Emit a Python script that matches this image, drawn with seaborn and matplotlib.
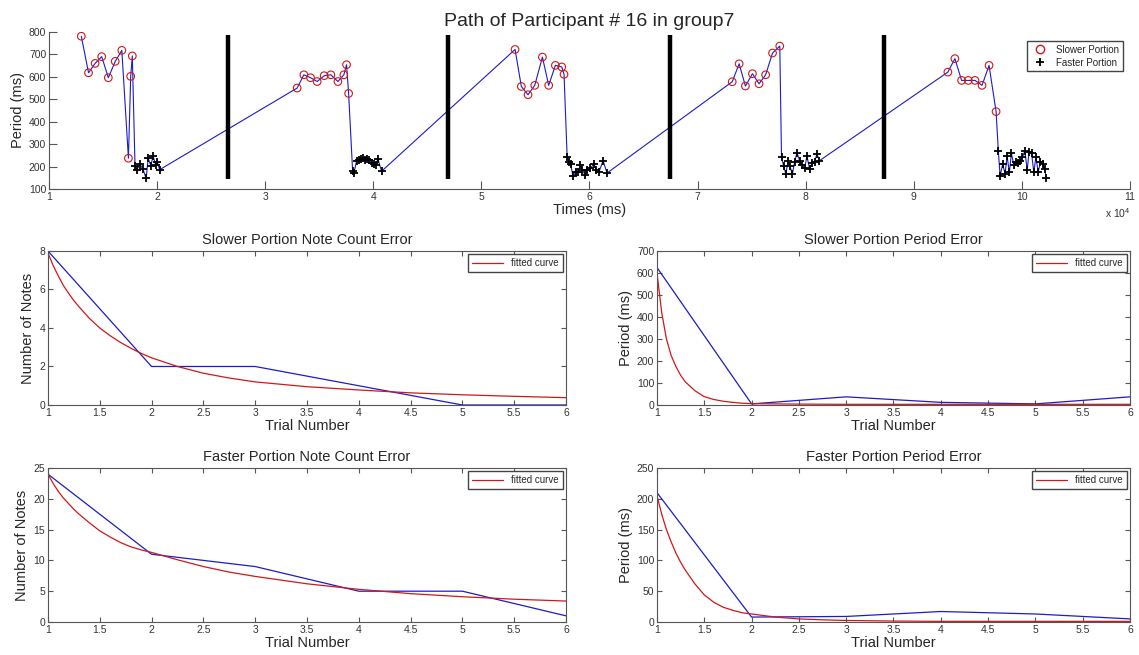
import numpy as np
import pandas as pd
import matplotlib
matplotlib.use("Agg")
import matplotlib.pyplot as plt
import seaborn as sns
from matplotlib.lines import Line2D
from matplotlib.ticker import FuncFormatter, FixedLocator

# ---------------- data ----------------
slow1_t = [12990, 13660, 14270, 14880, 15490, 16130, 16740, 17350, 17560, 17710]
slow1_p = [781, 618, 660, 690, 596, 669, 718, 237, 602, 693]
fast1_t = [17960, 18140, 18410, 18690, 18990, 19180, 19420, 19630, 19880, 20030, 20240]
fast1_p = [201, 186, 211, 189, 147, 237, 204, 246, 207, 219, 186]

slow2_t = [32960, 33580, 34200, 34810, 35460, 36080, 36730, 37280, 37530, 37720]
slow2_p = [550, 609, 596, 579, 605, 609, 579, 609, 654, 526]
fast2_t = [38090, 38210, 38460, 38700, 38830, 39010, 39260, 39440, 39630, 39880, 40060, 40250, 40430, 40770]
fast2_p = [182, 171, 226, 231, 234, 237, 231, 234, 228, 216, 211, 207, 234, 179]

slow3_t = [53120, 53700, 54320, 54940, 55650, 56230, 56850, 57440, 57650]
slow3_p = [722, 557, 520, 562, 688, 562, 651, 644, 611]
fast3_t = [57940, 58120, 58250, 58490, 58740, 58950, 59170, 59350, 59600, 59780, 60090, 60400, 60650, 60890, 61260, 61630]
fast3_p = [241, 219, 211, 156, 174, 177, 207, 186, 162, 186, 192, 211, 186, 177, 226, 171]

slow4_t = [73210, 73850, 74430, 75080, 75690, 76300, 76940, 77610]
slow4_p = [578, 658, 559, 614, 569, 609, 706, 737]
fast4_t = [77770, 77980, 78170, 78380, 78530, 78780, 78990, 79200, 79450, 79690, 79910, 80120, 80370, 80610, 80830, 81040, 81280]
fast4_p = [241, 201, 167, 226, 204, 167, 222, 261, 226, 207, 192, 246, 189, 216, 219, 256, 226]

slow5_t = [93160, 93810, 94430, 95050, 95670, 96320, 96970, 97620]
slow5_p = [621, 681, 584, 584, 584, 562, 651, 445]
fast5_t = [97830, 97990, 98240, 98450, 98640, 98850, 99040, 99260, 99440, 99660, 99850, 100060,
           100280, 100500, 100680, 100900, 101110, 101300, 101520, 101730, 101920, 102110, 102260]
fast5_p = [270, 159, 211, 167, 246, 174, 259, 207, 219, 216, 226, 241,
           270, 186, 267, 261, 174, 241, 177, 219, 211, 189, 150]

trial_breaks = [26520, 46940, 67420, 87250]
break_low, break_high = 145, 785

trials = [1, 2, 3, 4, 5, 6]
slow_count_err = [8, 2, 2, 1, 0, 0]
slow_period_err = [625, 5, 37, 12, 5, 37]
fast_count_err = [24, 11, 9, 5, 5, 1]
fast_period_err = [210, 8, 9, 17, 13, 5]

fit_x = [1, 1.05, 1.1, 1.15, 1.2, 1.25, 1.3, 1.4, 1.5, 1.6, 1.7, 1.8, 1.9, 2,
         2.25, 2.5, 2.75, 3, 3.5, 4, 4.5, 5, 5.5, 6]
slow_count_fit = [7.9, 7.25, 6.7, 6.2, 5.8, 5.42, 5.1, 4.5, 4.0, 3.6, 3.25, 2.95, 2.68, 2.45,
                  2.0, 1.65, 1.4, 1.2, 0.95, 0.78, 0.63, 0.53, 0.45, 0.38]
slow_period_fit = [600, 420, 300, 225, 175, 135, 105, 65, 38, 25, 17, 12, 8, 6,
                   5, 4, 3.5, 3, 3, 3, 3, 3, 3, 3]
fast_count_fit = [24, 22.5, 21.2, 20.1, 19.2, 18.3, 17.5, 16.1, 14.8, 13.8, 12.9, 12.2, 11.7, 11.3,
                  10.1, 9.0, 8.1, 7.4, 6.2, 5.3, 4.6, 4.1, 3.7, 3.4]
fast_period_fit = [205, 175, 150, 130, 112, 97, 84, 62, 44, 32, 24, 19, 15, 13,
                   8, 5, 3.5, 2.5, 1.5, 1, 1, 1, 1, 1]

# ---------------- style ----------------
sns.set_style("ticks")
plt.rcParams['font.family'] = ['Liberation Sans', 'DejaVu Sans']
plt.rcParams['mathtext.fontset'] = 'custom'
plt.rcParams['mathtext.rm'] = 'Liberation Sans'
plt.rcParams['xtick.direction'] = 'in'
plt.rcParams['ytick.direction'] = 'in'

BLUE = '#1c1cc8'
RED = '#d01818'
SPINE = '#555555'
TICKC = '#333333'

fig = plt.figure(figsize=(11.39, 6.55), dpi=100)
fig.patch.set_facecolor('white')

# ---------------- top path plot ----------------
ax0 = fig.add_axes([0.043, 0.7115, 0.949, 0.2397])
slows = [(slow1_t, slow1_p), (slow2_t, slow2_p), (slow3_t, slow3_p), (slow4_t, slow4_p), (slow5_t, slow5_p)]
fasts = [(fast1_t, fast1_p), (fast2_t, fast2_p), (fast3_t, fast3_p), (fast4_t, fast4_p), (fast5_t, fast5_p)]
path_t, path_p = [], []
for (st, sp), (ft, fp) in zip(slows, fasts):
    path_t += st + ft
    path_p += sp + fp
path_df = pd.DataFrame({'t': path_t, 'p': path_p})
sns.lineplot(data=path_df, x='t', y='p', sort=False, estimator=None, color=BLUE, lw=0.8, ax=ax0)

slow_df = pd.DataFrame({'t': sum([s[0] for s in slows], []), 'p': sum([s[1] for s in slows], [])})
fast_df = pd.DataFrame({'t': sum([f[0] for f in fasts], []), 'p': sum([f[1] for f in fasts], [])})
sns.scatterplot(data=slow_df, x='t', y='p', marker='o', s=30, facecolors='none',
                edgecolor=RED, linewidth=0.8, ax=ax0, zorder=3)
sns.scatterplot(data=fast_df, x='t', y='p', marker='+', s=32, color='black',
                linewidth=1.3, ax=ax0, zorder=3)
ax0.vlines(trial_breaks, break_low, break_high, colors='black', lw=3.2, zorder=4)

ax0.set_xlim(10000, 110000)
ax0.set_ylim(100, 800)
ax0.xaxis.set_major_locator(FixedLocator(np.arange(10000, 110001, 10000)))
ax0.xaxis.set_major_formatter(FuncFormatter(lambda v, pos: f"{v/1e4:g}"))
ax0.set_yticks(np.arange(100, 801, 100))
ax0.set_title("Path of Participant # 16 in group7", fontsize=14, pad=4)
ax0.set_xlabel("Times (ms)", fontsize=10.5, labelpad=1)
ax0.set_ylabel("Period (ms)", fontsize=10.5, labelpad=3)
ax0.text(0.989, -0.155, "x 10$^{4}$", transform=ax0.transAxes, fontsize=7.5,
         ha='center', va='center', color=TICKC)
for side in ['top', 'right']:
    ax0.spines[side].set_visible(False)
for side in ['left', 'bottom']:
    ax0.spines[side].set_color(SPINE)
    ax0.spines[side].set_linewidth(0.8)
ax0.tick_params(axis='both', labelsize=7.5, labelcolor=TICKC, color=SPINE,
                length=6, width=0.8, pad=2)
leg_handles = [
    Line2D([], [], marker='o', ls='none', markerfacecolor='none', markeredgecolor=RED, markersize=6),
    Line2D([], [], marker='+', ls='none', color='black', markersize=6, markeredgewidth=1.3),
]
ax0.legend(leg_handles, ['Slower Portion', 'Faster Portion'], loc='upper right',
           bbox_to_anchor=(0.998, 0.975), fontsize=7, frameon=True, fancybox=False,
           edgecolor='#444444', framealpha=1, handletextpad=0.6, borderpad=0.4,
           labelspacing=0.3)

# ---------------- small plots ----------------
def small_plot(rect, yvals, fitvals, title, ylabel, yticks):
    ax = fig.add_axes(rect)
    sns.lineplot(x=trials, y=yvals, color=BLUE, lw=0.9, ax=ax)
    sns.lineplot(x=fit_x, y=fitvals, color=RED, lw=0.9, ax=ax, label='fitted curve')
    ax.set_xlim(1, 6)
    ax.set_ylim(yticks[0], yticks[-1])
    ax.set_xticks(np.arange(1, 6.01, 0.5))
    ax.xaxis.set_major_formatter(FuncFormatter(lambda v, pos: f"{v:g}"))
    ax.set_yticks(yticks)
    ax.set_title(title, fontsize=10.5, pad=5)
    ax.set_xlabel("Trial Number", fontsize=10.5, labelpad=1)
    ax.set_ylabel(ylabel, fontsize=10.5, labelpad=3)
    for side in ['top', 'right', 'left', 'bottom']:
        ax.spines[side].set_visible(True)
        ax.spines[side].set_color(SPINE)
        ax.spines[side].set_linewidth(0.8)
    ax.tick_params(axis='both', labelsize=7.5, labelcolor=TICKC, color=SPINE,
                   length=3.5, width=0.8, pad=2, top=True, right=True)
    ax.legend(loc='upper right', fontsize=7, frameon=True, fancybox=False,
              edgecolor='#444444', framealpha=1, borderaxespad=0.35,
              handlelength=3.2, borderpad=0.4)
    return ax

LX, LW = 0.0421, 0.4548
RX, RW = 0.5768, 0.4153
B2, B3, H = 0.3817, 0.0504, 0.2351

small_plot([LX, B2, LW, H], slow_count_err, slow_count_fit,
           "Slower Portion Note Count Error", "Number of Notes", np.arange(0, 9, 2))
small_plot([RX, B2, RW, H], slow_period_err, slow_period_fit,
           "Slower Portion Period Error", "Period (ms)", np.arange(0, 701, 100))
small_plot([LX, B3, LW, H], fast_count_err, fast_count_fit,
           "Faster Portion Note Count Error", "Number of Notes", np.arange(0, 26, 5))
small_plot([RX, B3, RW, H], fast_period_err, fast_period_fit,
           "Faster Portion Period Error", "Period (ms)", np.arange(0, 251, 50))

fig.savefig("out.png", dpi=100, facecolor='white')
